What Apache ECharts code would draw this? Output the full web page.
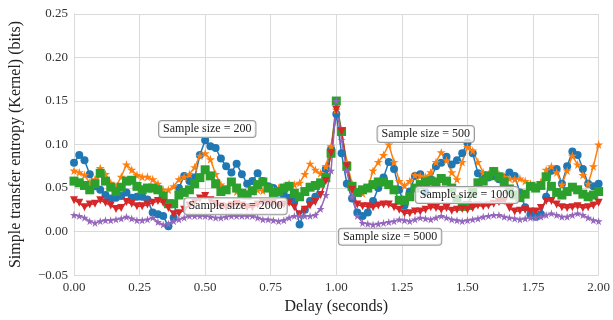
<!DOCTYPE html>
<html>
<head>
<meta charset="utf-8">
<script src="https://cdn.jsdelivr.net/npm/echarts@6/dist/echarts.min.js"></script>
<style>
  html, body { margin: 0; padding: 0; background: #fff; }
  #chart { width: 613px; height: 320px; }
</style>
</head>
<body>
<div id="chart"></div>
<script>
  // delay grid step (seconds) shared by all series
  const delayStep = 0.02;

  const size200 = [
    0.079, 0.088, 0.082, 0.066, 0.052, 0.048, 0.042, 0.038, 0.039, 0.041,
    0.045, 0.039, 0.040, 0.040, 0.037, 0.022, 0.020, 0.018, 0.006, 0.016,
    0.050, 0.064, 0.058, 0.062, 0.088, 0.105, 0.098, 0.096, 0.084, 0.075,
    0.068, 0.078, 0.066, 0.055, 0.058, 0.067, 0.058, 0.052, 0.050, 0.045,
    0.042, 0.039, 0.035, 0.008, 0.025, 0.035, 0.040, 0.055, 0.072, 0.095,
    0.135, 0.090, 0.055, 0.038, 0.022, 0.018, 0.022, 0.035, 0.050, 0.062,
    0.080, 0.072, 0.048, 0.030, 0.046, 0.064, 0.066, 0.045, 0.060, 0.075,
    0.079, 0.086, 0.077, 0.082, 0.090, 0.102, 0.090, 0.067, 0.062, 0.062,
    0.064, 0.060, 0.062, 0.068, 0.064, 0.045, 0.028, 0.020, 0.017, 0.020,
    0.040, 0.070, 0.072, 0.055, 0.075, 0.092, 0.088, 0.072, 0.055, 0.052,
    0.055
  ];

  const size500 = [
    0.070, 0.068, 0.065, 0.056, 0.060, 0.073, 0.066, 0.056, 0.052, 0.063,
    0.077, 0.071, 0.065, 0.063, 0.063, 0.060, 0.055, 0.048, 0.048, 0.052,
    0.060, 0.063, 0.066, 0.074, 0.087, 0.090, 0.083, 0.066, 0.054, 0.048,
    0.056, 0.046, 0.045, 0.044, 0.046, 0.048, 0.047, 0.050, 0.048, 0.050,
    0.052, 0.055, 0.054, 0.056, 0.066, 0.078, 0.071, 0.067, 0.075, 0.098,
    0.140, 0.115, 0.080, 0.055, 0.045, 0.044, 0.050, 0.070, 0.080, 0.088,
    0.100, 0.080, 0.058, 0.053, 0.058, 0.065, 0.064, 0.063, 0.068, 0.080,
    0.091, 0.082, 0.068, 0.060, 0.080, 0.097, 0.093, 0.080, 0.068, 0.066,
    0.070, 0.066, 0.063, 0.061, 0.060, 0.061, 0.058, 0.055, 0.053, 0.057,
    0.071, 0.075, 0.068, 0.054, 0.070, 0.087, 0.077, 0.065, 0.055, 0.075,
    0.100
  ];

  const size1000 = [
    0.058, 0.056, 0.053, 0.048, 0.055, 0.067, 0.058, 0.051, 0.046, 0.051,
    0.058, 0.059, 0.052, 0.048, 0.050, 0.050, 0.048, 0.041, 0.032, 0.032,
    0.042, 0.045, 0.048, 0.055, 0.062, 0.071, 0.064, 0.055, 0.046, 0.048,
    0.057, 0.050, 0.044, 0.042, 0.047, 0.054, 0.057, 0.050, 0.045, 0.046,
    0.050, 0.052, 0.044, 0.040, 0.046, 0.051, 0.053, 0.056, 0.062, 0.090,
    0.150, 0.115, 0.075, 0.052, 0.045, 0.048, 0.050, 0.054, 0.057, 0.057,
    0.054, 0.048, 0.036, 0.036, 0.040, 0.050, 0.054, 0.057, 0.058, 0.057,
    0.061, 0.058, 0.050, 0.037, 0.029, 0.030, 0.045, 0.056, 0.058, 0.064,
    0.069, 0.063, 0.057, 0.049, 0.042, 0.039, 0.043, 0.052, 0.050, 0.053,
    0.063, 0.052, 0.045, 0.042, 0.046, 0.051, 0.048, 0.043, 0.040, 0.042,
    0.046
  ];

  const size2000 = [
    0.036, 0.033, 0.028, 0.031, 0.032, 0.036, 0.033, 0.030, 0.026, 0.027,
    0.034, 0.032, 0.029, 0.029, 0.031, 0.033, 0.035, 0.033, 0.027, 0.020,
    0.021, 0.025, 0.030, 0.034, 0.038, 0.041, 0.036, 0.032, 0.029, 0.028,
    0.030, 0.032, 0.030, 0.028, 0.028, 0.031, 0.033, 0.034, 0.034, 0.030,
    0.031, 0.033, 0.028, 0.020, 0.025, 0.030, 0.034, 0.042, 0.058, 0.090,
    0.140, 0.115, 0.075, 0.048, 0.031, 0.029, 0.029, 0.028, 0.030, 0.031,
    0.031, 0.028, 0.025, 0.021, 0.021, 0.023, 0.023, 0.025, 0.028, 0.027,
    0.025, 0.027, 0.024, 0.025, 0.026, 0.025, 0.027, 0.030, 0.029, 0.030,
    0.032, 0.034, 0.035, 0.027, 0.023, 0.024, 0.025, 0.023, 0.023, 0.027,
    0.035, 0.035, 0.031, 0.028, 0.027, 0.028, 0.029, 0.027, 0.028, 0.030,
    0.033
  ];

  const size5000 = [
    0.019, 0.018, 0.016, 0.012, 0.010, 0.012, 0.013, 0.013, 0.014, 0.015,
    0.017, 0.015, 0.013, 0.013, 0.014, 0.016, 0.011, 0.008, 0.009, 0.012,
    0.014, 0.016, 0.018, 0.018, 0.018, 0.018, 0.017, 0.016, 0.016, 0.017,
    0.018, 0.018, 0.018, 0.018, 0.018, 0.016, 0.014, 0.014, 0.013, 0.012,
    0.013, 0.016, 0.018, 0.018, 0.018, 0.018, 0.019, 0.026, 0.042, 0.070,
    0.150, 0.105, 0.070, 0.040, 0.018, 0.010, 0.009, 0.008, 0.009, 0.010,
    0.011, 0.012, 0.014, 0.013, 0.012, 0.014, 0.016, 0.015, 0.014, 0.016,
    0.018, 0.016, 0.014, 0.013, 0.012, 0.013, 0.014, 0.015, 0.017, 0.018,
    0.019, 0.019, 0.017, 0.016, 0.015, 0.014, 0.015, 0.016, 0.016, 0.017,
    0.019, 0.021, 0.019, 0.017, 0.017, 0.019, 0.021, 0.019, 0.016, 0.013,
    0.012
  ];

  // label text and where it sits, in data units [delay, entropy]
  const noteTexts = ["Sample size = 200", "Sample size = 500", "Sample size = 1000", "Sample size = 2000", "Sample size = 5000"];
  const notePoints = [[0.508, 0.118], [1.341, 0.112], [1.498, 0.042], [0.616, 0.029], [1.205, -0.006]];

  const xTicks = [0, 0.25, 0.5, 0.75, 1, 1.25, 1.5, 1.75, 2];
  const yTicks = [-0.05, 0, 0.05, 0.1, 0.15, 0.2, 0.25];

  const STAR = "path://M50,0 L61,35 L98,35 L68,57 L79,91 L50,70 L21,91 L32,57 L2,35 L39,35 Z";
  const FONT = "'Liberation Serif', 'DejaVu Serif', serif";
  const GRID_COLOR = "#dadada";

  function toPairs(values) {
    return values.map((v, i) => [Math.round(i * delayStep * 100) / 100, v]);
  }

  function fmt(v) {
    return v.toFixed(2).replace("-", "\u2212");
  }

  const seriesDefs = [
    { name: "200", data: size200, color: "#1f77b4", symbol: "circle", size: 8, rotate: 0 },
    { name: "500", data: size500, color: "#ff7f0e", symbol: STAR, size: 9, rotate: 0 },
    { name: "1000", data: size1000, color: "#2ca02c", symbol: "rect", size: 9, rotate: 0 },
    { name: "2000", data: size2000, color: "#d62728", symbol: "triangle", size: 8, rotate: 180 },
    { name: "5000", data: size5000, color: "#9467bd", symbol: STAR, size: 8, rotate: 0 }
  ];

  const chart = echarts.init(document.getElementById("chart"), null, { renderer: "canvas" });

  const series = seriesDefs.map((s) => ({
    name: s.name,
    type: "line",
    data: toPairs(s.data),
    symbol: s.symbol,
    symbolSize: s.size,
    symbolRotate: s.rotate,
    showAllSymbol: true,
    animation: false,
    lineStyle: { color: s.color, width: 1.5 },
    itemStyle: { color: s.color, borderWidth: 0 },
    z: 2
  }));

  series.push({
    type: "scatter",
    data: [],
    silent: true,
    z: 10,
    markPoint: {
      symbol: "circle",
      symbolSize: 0,
      animation: false,
      data: notePoints.map((p, i) => ({
        coord: p,
        label: {
          show: true,
          position: "inside",
          formatter: noteTexts[i],
          fontFamily: FONT,
          fontSize: 12,
          color: "#222",
          backgroundColor: "rgba(255,255,255,0.75)",
          borderColor: "#999",
          borderWidth: 1,
          borderRadius: 3,
          padding: [2, 4, 2, 4]
        }
      }))
    }
  });

  chart.setOption({
    animation: false,
    backgroundColor: "#fff",
    grid: { left: 72, right: 13, top: 14, bottom: 44 },
    xAxis: {
      type: "value",
      min: xTicks[0],
      max: xTicks[xTicks.length - 1],
      interval: 0.25,
      name: "Delay (seconds)",
      nameLocation: "middle",
      nameGap: 22,
      nameTextStyle: { fontFamily: FONT, fontSize: 16, color: "#222", verticalAlign: "top" },
      axisLine: { show: true, lineStyle: { color: GRID_COLOR, width: 1 } },
      axisTick: { show: false },
      axisLabel: { fontFamily: FONT, fontSize: 13, color: "#333", margin: 6, formatter: fmt },
      splitLine: { show: true, lineStyle: { color: GRID_COLOR, width: 1 } }
    },
    yAxis: {
      type: "value",
      min: yTicks[0],
      max: yTicks[yTicks.length - 1],
      interval: 0.05,
      name: "Simple transfer entropy (Kernel) (bits)",
      nameLocation: "middle",
      nameGap: 50,
      nameTextStyle: { fontFamily: FONT, fontSize: 16, color: "#222" },
      axisLine: { show: true, lineStyle: { color: GRID_COLOR, width: 1 } },
      axisTick: { show: false },
      axisLabel: { fontFamily: FONT, fontSize: 13, color: "#333", margin: 6, formatter: fmt },
      splitLine: { show: true, lineStyle: { color: GRID_COLOR, width: 1 } }
    },
    series
  });
</script>
</body>
</html>
